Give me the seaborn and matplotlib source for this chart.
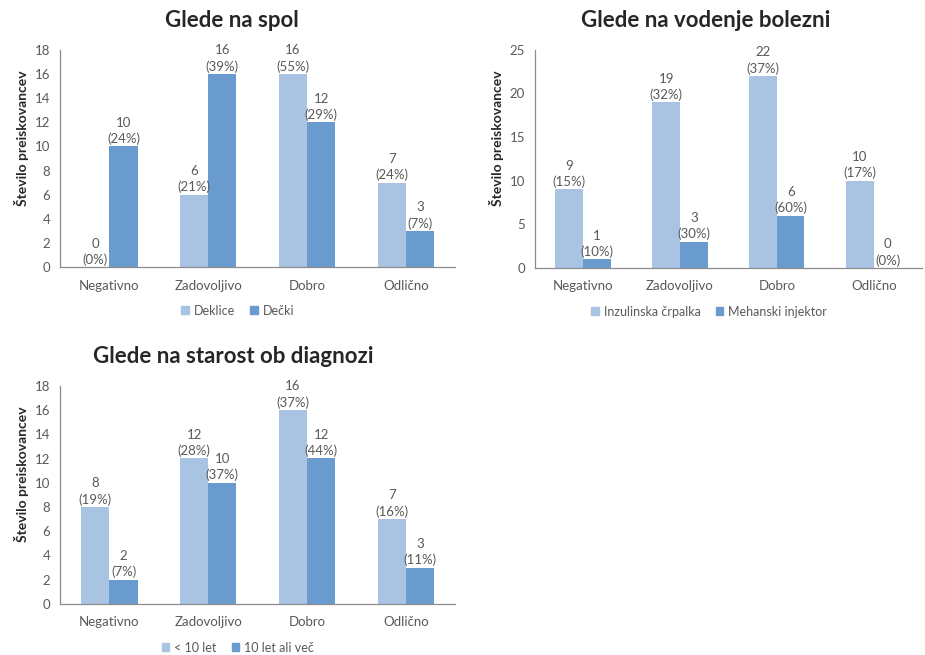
import matplotlib
matplotlib.use('Agg')
import matplotlib.pyplot as plt
import seaborn as sns
import pandas as pd
from matplotlib.ticker import FixedLocator, MultipleLocator
from matplotlib.patches import Patch

# Podatki
categories = ['Negativno', 'Zadovoljivo', 'Dobro', 'Odlično']

spol_groups = ['Deklice', 'Dečki']
spol_deklice = [0, 6, 16, 7]
spol_deklice_pct = [0, 21, 55, 24]
spol_decki = [10, 16, 12, 3]
spol_decki_pct = [24, 39, 29, 7]

vodenje_groups = ['Inzulinska črpalka', 'Mehanski injektor']
vodenje_crpalka = [9, 19, 22, 10]
vodenje_crpalka_pct = [15, 32, 37, 17]
vodenje_injektor = [1, 3, 6, 0]
vodenje_injektor_pct = [10, 30, 60, 0]

starost_groups = ['< 10 let', '10 let ali več']
starost_mlajsi = [8, 12, 16, 7]
starost_mlajsi_pct = [19, 28, 37, 16]
starost_starejsi = [2, 10, 12, 3]
starost_starejsi_pct = [7, 37, 44, 11]

LIGHT = '#A9C4E2'
DARK = '#6A9BCE'
GRAY = '#595959'
AXIS = '#8C8C8C'

sns.set_style('white')
plt.rcParams['font.family'] = ['Lato', 'DejaVu Sans']

fig = plt.figure(figsize=(9.25, 6.55), dpi=100)


def panel(rect, groups, vals, pcts, ymax, ystep, title, title_xy):
    ax = fig.add_axes(rect)
    df = pd.DataFrame({
        'kategorija': categories * 2,
        'skupina': [groups[0]] * 4 + [groups[1]] * 4,
        'n': vals[0] + vals[1],
    })
    sns.barplot(data=df, x='kategorija', y='n', hue='skupina',
                palette=[LIGHT, DARK], width=0.57, saturation=1,
                linewidth=0, edgecolor='none', legend=False, ax=ax)
    for cont, v, p in zip(ax.containers, vals, pcts):
        ax.bar_label(cont, labels=[f'{a}\n({b}%)' for a, b in zip(v, p)],
                     padding=1, fontsize=9.5, color=GRAY, linespacing=1.35)
    ax.set_ylim(0, ymax)
    ax.set_xlim(-0.5, 3.5)
    ax.yaxis.set_major_locator(MultipleLocator(ystep))
    ax.xaxis.set_minor_locator(FixedLocator([-0.5, 0.5, 1.5, 2.5, 3.5]))
    ax.tick_params(axis='x', which='major', length=0, pad=9, labelsize=9.5, labelcolor=GRAY)
    ax.tick_params(axis='x', which='minor', length=4, color=AXIS, direction='out')
    ax.tick_params(axis='y', length=4, color=AXIS, direction='out', labelsize=9.5,
                   labelcolor=GRAY, pad=3)
    for s in ['top', 'right']:
        ax.spines[s].set_visible(False)
    for s in ['left', 'bottom']:
        ax.spines[s].set_color(AXIS)
        ax.spines[s].set_linewidth(0.9)
    ax.set_xlabel('')
    ax.set_ylabel('Število preiskovancev', fontsize=10, fontweight='bold')
    ax.yaxis.set_label_coords(-0.08, 0.595)
    handles = [Patch(color=LIGHT, label=groups[0]), Patch(color=DARK, label=groups[1])]
    ax.legend(handles=handles, loc='center', bbox_to_anchor=(0.45, -0.2), ncol=2,
              frameon=False, fontsize=9, handlelength=0.6, handleheight=0.6,
              handletextpad=0.4, columnspacing=1.2, labelcolor=GRAY)
    fig.text(title_xy[0], title_xy[1], title, ha='center', va='center',
             fontsize=16, fontweight='bold')
    return ax


panel([0.065, 0.592, 0.427, 0.332], spol_groups,
      [spol_deklice, spol_decki], [spol_deklice_pct, spol_decki_pct],
      18, 2, 'Glede na spol', (0.251, 0.969))
panel([0.578, 0.591, 0.419, 0.333], vodenje_groups,
      [vodenje_crpalka, vodenje_injektor], [vodenje_crpalka_pct, vodenje_injektor_pct],
      25, 5, 'Glede na vodenje bolezni', (0.763, 0.969))
panel([0.065, 0.078, 0.427, 0.333], starost_groups,
      [starost_mlajsi, starost_starejsi], [starost_mlajsi_pct, starost_starejsi_pct],
      18, 2, 'Glede na starost ob diagnozi', (0.252, 0.455))

fig.savefig('out.png', dpi=100)
